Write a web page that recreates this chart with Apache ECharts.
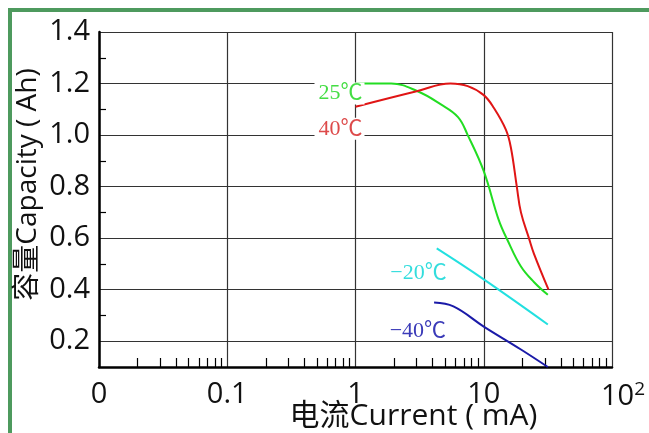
<!DOCTYPE html>
<html><head><meta charset="utf-8">
<script src="https://cdn.jsdelivr.net/npm/echarts@6/dist/echarts.min.js"></script>
<style>html,body{margin:0;padding:0;background:#fff}#c{width:649px;height:433px}</style>
</head><body><div id="c"></div>
<script>
// ---- data ----
const xMinorTicks = [0.02,0.03,0.04,0.05,0.06,0.07,0.08,0.09,
                     0.2,0.3,0.4,0.5,0.6,0.7,0.8,0.9,
                     2,3,4,5,6,7,8,9,
                     20,30,40,50,60,70,80,90];
const yMajorTicks = [0.2,0.4,0.6,0.8,1.0,1.2,1.4];
const yMinorTicks = [0.3,0.5,0.7,0.9,1.1,1.3];

const label25 = '25℃';
const current25 = [1, 1.9, 3.05, 4.6, 6.3, 7.5, 10, 13.1, 15.4, 19.5, 24.6, 31.6];
const capacity25 = [1.2, 1.2, 1.17, 1.12, 1.07, 1.0, 0.86, 0.67, 0.59, 0.49, 0.43, 0.38];

const label40 = '40℃';
const current40 = [1, 3.0, 5.5, 7.5, 10, 12, 14.9, 16.3, 18.1, 19.5, 22.5, 24.6, 32];
const capacity40 = [1.11, 1.17, 1.2, 1.19, 1.155, 1.105, 1.02, 0.95, 0.8, 0.7, 0.6, 0.54, 0.4];

const labelM20 = '−20℃';
const currentM20 = [4.3, 10, 31.6];
const capacityM20 = [0.56, 0.44, 0.265];

const labelM40 = '−40℃';
const currentM40 = [4.1, 5.8, 10, 19.5, 31.6];
const capacityM40 = [0.35, 0.335, 0.257, 0.168, 0.1];

// ---- build ----
const serifFont = '"Liberation Serif","Noto Sans CJK SC",serif';
const sansFont = '"Open Sans","Noto Sans CJK SC",sans-serif';

function mkSeries(name, xs, ys, lineColor, textColor, offset, bg) {
  const data = xs.map((x, i) => {
    const item = { value: [x, ys[i]] };
    if (i === 0) {
      item.label = {
        show: true, formatter: name, position: 'left', distance: 0, offset: offset,
        color: textColor, fontFamily: serifFont, fontSize: 22,
        backgroundColor: bg ? '#fff' : 'transparent', padding: [0, 2, 0, 4]
      };
    }
    return item;
  });
  return {
    type: 'line', name: name, data: data, xAxisIndex: 0, yAxisIndex: 0,
    smooth: 0.4,
    symbol: 'circle', symbolSize: 0, showSymbol: true, showAllSymbol: true,
    itemStyle: { color: lineColor },
    lineStyle: { color: lineColor, width: 2 },
    label: { show: false },
    emphasis: { disabled: true },
    z: 5
  };
}

const chart = echarts.init(document.getElementById('c'));
chart.setOption({
  animation: false,
  backgroundColor: '#fff',
  grid: { left: 99, right: 37, top: 32, bottom: 66, containLabel: false, outerBoundsMode: 'none' },
  graphic: [
    { type: 'rect', shape: { x: 8, y: 8, width: 641, height: 4 }, style: { fill: '#4e9a5e' }, z: -1 },
    { type: 'rect', shape: { x: 8, y: 8, width: 4, height: 425 }, style: { fill: '#4e9a5e' }, z: -1 }
  ],
  xAxis: [{
    type: 'log', logBase: 10, min: 0.01, max: 100,
    name: '电流Current ( mA)', nameLocation: 'middle', nameGap: 34, nameMoveOverlap: false,
    nameTextStyle: { color: '#111', fontSize: 30, fontFamily: sansFont, padding: [0, 0, 0, 116] },
    axisLine: { show: true, onZero: false, lineStyle: { color: '#000', width: 2.5 } },
    axisTick: { show: false },
    splitLine: { show: true, lineStyle: { color: '#333', width: 1.2 } },
    axisLabel: {
      color: '#111', fontSize: 29, fontFamily: sansFont, margin: 13,
      formatter: function (v) {
        if (Math.abs(v - 0.01) < 1e-9) return '0';
        if (Math.abs(v - 100) < 1e-6) return '{b|10}{s|2}';
        return String(v);
      },
      rich: {
        b: { fontSize: 29, fontFamily: sansFont, color: '#111', padding: [0, 0, 0, 22] },
        s: { fontSize: 19, fontFamily: sansFont, color: '#111', padding: [0, 0, 14, 0] }
      }
    }
  }, {
    type: 'log', logBase: 10, min: 0.01, max: 100, position: 'bottom',
    axisLine: { show: false }, axisLabel: { show: false }, splitLine: { show: false },
    axisTick: { show: true, inside: true, length: 9, customValues: xMinorTicks, lineStyle: { color: '#000', width: 1.2 } }
  }],
  yAxis: [{
    type: 'value', min: 0.1, max: 1.4, position: 'left',
    name: '容量Capacity ( Ah)', nameLocation: 'middle', nameGap: 57, nameRotate: 90, nameMoveOverlap: false,
    nameTextStyle: { color: '#111', fontSize: 28, fontFamily: sansFont, padding: [0, 0, 0, 30] },
    axisLine: { show: true, onZero: false, lineStyle: { color: '#000', width: 2.5 } },
    axisTick: { show: false, customValues: yMajorTicks },
    splitLine: { show: true, lineStyle: { color: '#333', width: 1.2 } },
    axisLabel: {
      color: '#111', fontSize: 29, fontFamily: sansFont, margin: 9, padding: [0, 0, 6, 0],
      customValues: yMajorTicks,
      formatter: function (v) { return v.toFixed(1); }
    }
  }, {
    type: 'value', min: 0.1, max: 1.4, position: 'left',
    axisLine: { show: false }, axisLabel: { show: false }, splitLine: { show: false },
    axisTick: { show: true, inside: true, length: 7, customValues: yMinorTicks, lineStyle: { color: '#000', width: 1.2 } }
  }],
  series: [
    mkSeries(label25, current25, capacity25, '#22dd22', '#44dd44', [9, 10], true),
    mkSeries(label40, current40, capacity40, '#e01515', '#dd4a4a', [9, 22], true),
    mkSeries(labelM20, currentM20, capacityM20, '#22e0e0', '#33dddd', [12, 25], false),
    mkSeries(labelM40, currentM40, capacityM40, '#1a1aa8', '#3a3ab8', [14, 29], false)
  ]
});
</script>
</body></html>
